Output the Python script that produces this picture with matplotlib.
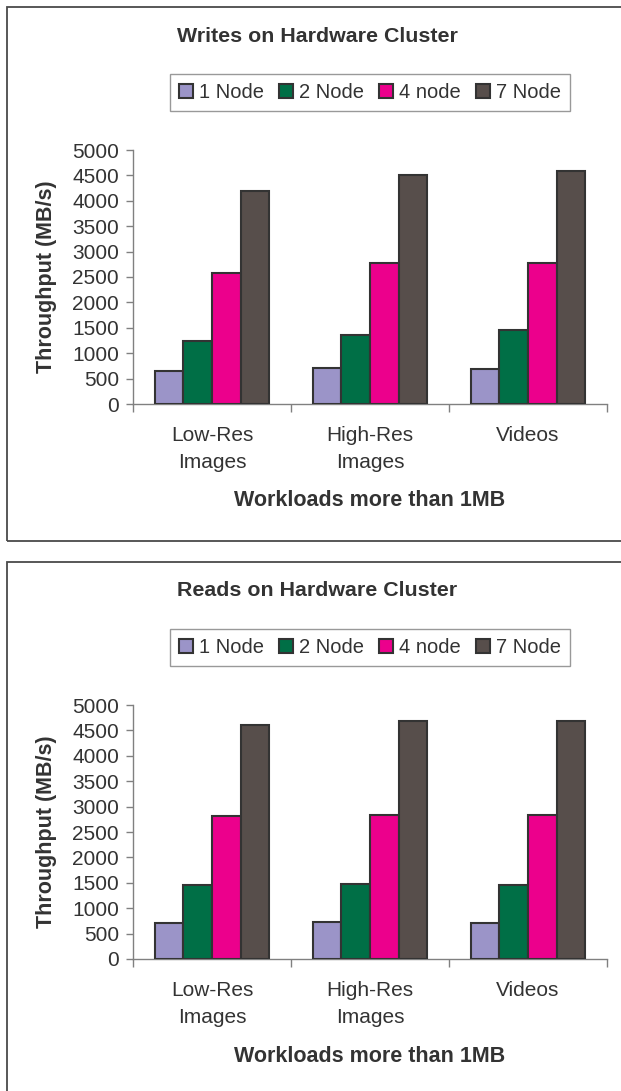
import matplotlib.pyplot as plt
from matplotlib.patches import Rectangle
import numpy as np

# throughput (MB/s) per workload, one list per cluster size
workloads = ['Low-Res\nImages', 'High-Res\nImages', 'Videos']
series = ['1 Node', '2 Node', '4 node', '7 Node']
colors = ['#9B94C8', '#006F46', '#EC008C', '#574E4B']

writes_1 = [640, 700, 690]
writes_2 = [1240, 1350, 1450]
writes_4 = [2570, 2770, 2770]
writes_7 = [4190, 4500, 4580]

reads_1 = [710, 720, 710]
reads_2 = [1460, 1470, 1450]
reads_4 = [2810, 2830, 2830]
reads_7 = [4600, 4690, 4690]

W, H = 621, 1091
TXT = '#333333'
plt.rcParams['font.family'] = ['Liberation Sans', 'DejaVu Sans']

fig = plt.figure(figsize=(W / 100, H / 100), dpi=100)


def fx(px):
    return px / W


def fy(py):
    return 1 - py / H


def draw_panel(top, title, data):
    # frame around the panel (runs off the right edge)
    fig.patches.append(Rectangle((fx(7), fy(top + 534)), fx(640), 534 / H,
                                 transform=fig.transFigure, fill=False,
                                 edgecolor='#4a4a4a', linewidth=1.3))
    fig.text(fx(317), fy(top + 29), title, ha='center', va='center',
             fontsize=15.4, fontweight='bold', color=TXT)

    ax = fig.add_axes([fx(133), fy(top + 397), fx(607 - 133), (397 - 143) / H])
    x = np.arange(len(workloads))
    w = 1 / 5.5
    bars = []
    for i, vals in enumerate(data):
        b = ax.bar(x + (i - 1.5) * w, vals, w, color=colors[i],
                   edgecolor='#333333', linewidth=1.5, label=series[i], zorder=3)
        bars.append(b)

    ax.set_xlim(-0.5, 2.5)
    ax.set_ylim(0, 5000)
    ax.set_yticks(np.arange(0, 5001, 500))
    ax.set_xticks([-0.5, 0.5, 1.5, 2.5])
    ax.set_xticklabels([])
    ax.set_xticks(x, minor=True)
    ax.set_xticklabels(workloads, minor=True, fontsize=15, color=TXT,
                       linespacing=1.55)
    ax.tick_params(axis='x', which='minor', length=0, pad=16)
    ax.tick_params(axis='x', which='major', length=6, color='#808080', width=1)
    ax.tick_params(axis='y', length=5, color='#808080', width=1, pad=5,
                   labelsize=15, labelcolor=TXT)
    for s in ['top', 'right']:
        ax.spines[s].set_visible(False)
    for s in ['left', 'bottom']:
        ax.spines[s].set_color('#808080')
        ax.spines[s].set_linewidth(1)

    fig.text(fx(47), fy(top + 270), 'Throughput (MB/s)', rotation=90,
             ha='center', va='center', fontsize=15.5, fontweight='bold', color=TXT)
    fig.text(fx(370), fy(top + 494), 'Workloads more than 1MB', ha='center',
             va='center', fontsize=15.5, fontweight='bold', color=TXT)

    leg = fig.legend(handles=bars, labels=series, ncol=4,
                     loc='center', bbox_to_anchor=(fx(370), fy(top + 85.5)),
                     fontsize=14.5, frameon=True, fancybox=False,
                     handlelength=0.7, handleheight=0.7, handletextpad=0.3,
                     columnspacing=0.75, borderpad=0.45, borderaxespad=0)
    leg.get_frame().set_edgecolor('#808080')
    leg.get_frame().set_linewidth(1)
    for t in leg.get_texts():
        t.set_color(TXT)


draw_panel(7, 'Writes on Hardware Cluster', [writes_1, writes_2, writes_4, writes_7])
draw_panel(562, 'Reads on Hardware Cluster', [reads_1, reads_2, reads_4, reads_7])

fig.savefig('out.png', dpi=100, facecolor='white')
